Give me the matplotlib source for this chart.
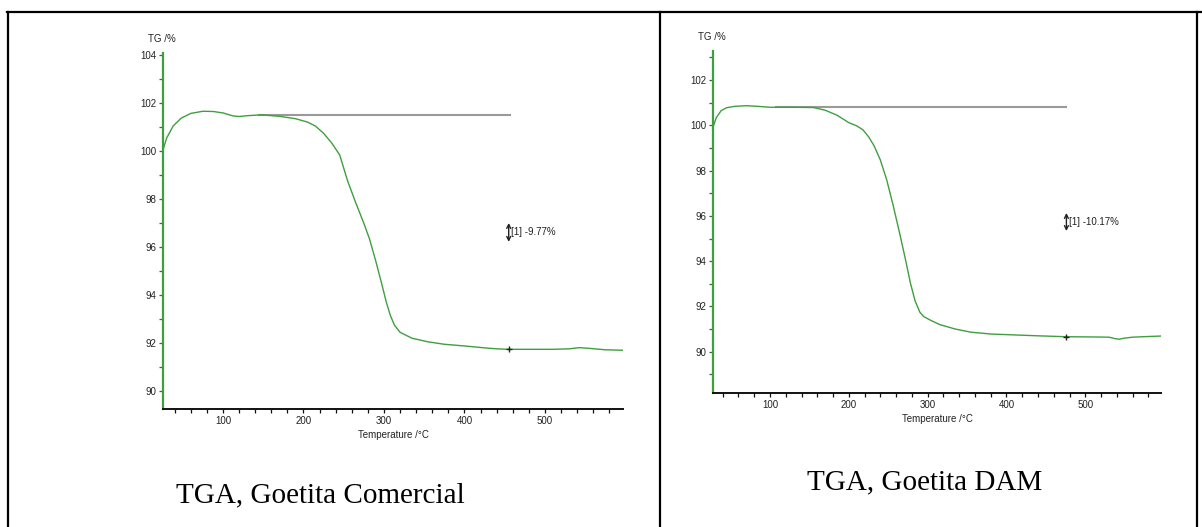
import matplotlib
matplotlib.use("Agg")
import matplotlib.pyplot as plt
from matplotlib.lines import Line2D
from matplotlib.ticker import MultipleLocator

# TGA, Goetita Comercial
temp_com = [25, 30, 38, 48, 60, 75, 88, 100, 112, 120, 132, 148, 170, 190, 205, 215,
            225, 235, 245, 255, 265, 275, 282, 290, 297, 303, 308, 313, 320, 335, 355,
            375, 400, 425, 440, 455, 480, 510, 530, 543, 555, 575, 597]
tg_com = [100.0, 100.55, 101.05, 101.38, 101.58, 101.67, 101.66, 101.6, 101.48, 101.45,
          101.49, 101.52, 101.46, 101.36, 101.22, 101.05, 100.75, 100.35, 99.85, 98.75,
          97.85, 97.0, 96.35, 95.4, 94.5, 93.7, 93.15, 92.75, 92.45, 92.2, 92.05, 91.95,
          91.88, 91.8, 91.76, 91.74, 91.74, 91.74, 91.76, 91.81, 91.78, 91.72, 91.70]
base_com = [145, 456]
level_com = 101.5
step_com = [97.01, 96.22]
step_at_com = 455
label_com = "[1] -9.77%"

# TGA, Goetita DAM
temp_dam = [28, 32, 38, 45, 55, 70, 85, 100, 130, 155, 170, 185, 200, 210, 218, 225,
            232, 240, 248, 256, 265, 272, 278, 284, 290, 295, 303, 315, 335, 355, 380,
            410, 440, 476, 510, 530, 537, 543, 550, 560, 580, 596]
tg_dam = [99.95, 100.35, 100.65, 100.78, 100.84, 100.87, 100.84, 100.8, 100.8, 100.79,
          100.67, 100.45, 100.12, 99.98, 99.8, 99.5, 99.1, 98.47, 97.6, 96.5, 95.15,
          94.05, 93.05, 92.25, 91.75, 91.55, 91.4, 91.2, 91.0, 90.86, 90.78, 90.74,
          90.7, 90.66, 90.65, 90.64, 90.58, 90.55, 90.6, 90.64, 90.67, 90.69]
base_dam = [108, 476]
level_dam = 100.8
step_dam = [96.13, 95.33]
step_at_dam = 476
label_dam = "[1] -10.17%"

W, H = 1202, 527
fig = plt.figure(figsize=(W / 100, H / 100), dpi=100)
plt.rcParams['font.family'] = ['Liberation Sans', 'DejaVu Sans']

GREEN = '#3f9e3f'


def px_rect(x0, y0, x1, y1):
    return [x0 / W, 1 - y1 / H, (x1 - x0) / W, (y1 - y0) / H]


def draw_panel(rect, xlim, ylim, temp, tg, base, level, step, step_at, label,
               ylab_xy, xlabelpad):
    ax = fig.add_axes(rect)
    ax.plot(base, [level, level], color='#9a9a9a', lw=1.5, zorder=2)
    ax.plot(temp, tg, color=GREEN, lw=1.0, zorder=3)
    ax.plot([step_at], [tg[min(range(len(temp)), key=lambda i: abs(temp[i] - step_at))]],
            marker='+', color='#222222', ms=5, mew=1, zorder=4)
    ax.annotate('', xy=(step_at, step[0]), xytext=(step_at, step[1]),
                arrowprops=dict(arrowstyle='<->', color='#222222', lw=1,
                                shrinkA=0, shrinkB=0, mutation_scale=7))
    ax.text(step_at + 3, (step[0] + step[1]) / 2, label, fontsize=7,
            va='center', ha='left', color='#222222')
    ax.set_xlim(*xlim)
    ax.set_ylim(*ylim)
    ax.xaxis.set_major_locator(MultipleLocator(100))
    ax.xaxis.set_minor_locator(MultipleLocator(20))
    ax.yaxis.set_major_locator(MultipleLocator(2))
    ax.yaxis.set_minor_locator(MultipleLocator(1))
    for s in ('top', 'right'):
        ax.spines[s].set_visible(False)
    ax.spines['left'].set_color(GREEN)
    ax.spines['left'].set_linewidth(1.6)
    ax.spines['bottom'].set_color('#111111')
    ax.spines['bottom'].set_linewidth(1.4)
    ax.tick_params(axis='both', which='both', direction='out', length=3, width=0.9,
                   labelsize=7, pad=2, labelcolor='#222222')
    ax.tick_params(axis='y', which='both', color='#2f6f2f')
    ax.tick_params(axis='x', which='both', color='#111111')
    ax.set_xlabel('Temperature /°C', fontsize=7, labelpad=xlabelpad, color='#222222')
    fig.text(ylab_xy[0] / W, 1 - ylab_xy[1] / H, 'TG /%', fontsize=7,
             ha='left', va='center', color='#222222')
    return ax


draw_panel(px_rect(163, 53, 623, 409), (25.5, 597), (89.25, 104.1),
           temp_com, tg_com, base_com, level_com, step_com, step_at_com, label_com,
           (148, 39), 3)
draw_panel(px_rect(713, 50.7, 1161, 393.3), (27.7, 596), (88.16, 103.30),
           temp_dam, tg_dam, base_dam, level_dam, step_dam, step_at_dam, label_dam,
           (698, 37), 3)

# table frame
for xs, ys in [([7, 1202], [12, 12]), ([8, 8], [12, 527]), ([660, 660], [12, 527]),
               ([1197, 1197], [12, 527])]:
    fig.add_artist(Line2D([x / W for x in xs], [1 - y / H for y in ys],
                          transform=fig.transFigure, color='black', lw=1.6))

fig.text(320 / W, 1 - 495 / H, 'TGA, Goetita Comercial', fontsize=21,
         family=['Liberation Serif', 'DejaVu Serif'], ha='center', va='center')
fig.text(925 / W, 1 - 482 / H, 'TGA, Goetita DAM', fontsize=21,
         family=['Liberation Serif', 'DejaVu Serif'], ha='center', va='center')

fig.savefig('out.png', dpi=100)
